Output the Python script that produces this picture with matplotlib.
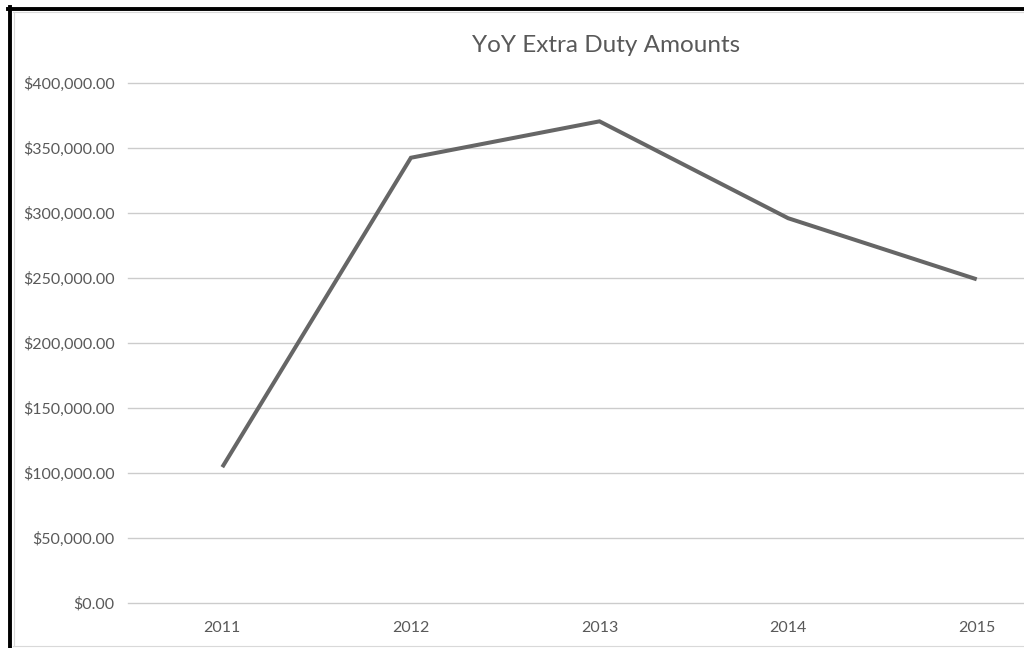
import numpy as np
import matplotlib
matplotlib.use("Agg")
import matplotlib.pyplot as plt
from matplotlib.lines import Line2D
from matplotlib.ticker import FuncFormatter

# data
years = ["2011", "2012", "2013", "2014", "2015"]
amounts = [104500, 342500, 370500, 296000, 249000]
y_ticks = [0, 50000, 100000, 150000, 200000, 250000, 300000, 350000, 400000]

plt.rcParams['font.family'] = ['Lato', 'DejaVu Sans']
text_grey = '#595959'

fig = plt.figure(figsize=(10.24, 6.48), dpi=100)
fig.patch.set_facecolor('white')

# axes runs past the right edge, like the cropped scan
ax = fig.add_axes([128 / 1024, 1 - 603 / 648, (1071 - 128) / 1024, (603 - 83) / 648])
ax.set_facecolor('none')

x = np.arange(len(years))
ax.plot(x, amounts, color='#666666', linewidth=2.9, solid_capstyle='butt',
        solid_joinstyle='miter', zorder=3)

ax.set_xlim(-0.5, len(years) - 0.5)
ax.set_ylim(0, 400000)
ax.set_yticks(y_ticks)
ax.yaxis.set_major_formatter(FuncFormatter(lambda v, p: '${:,.2f}'.format(v)))
ax.set_xticks(x)
ax.set_xticklabels(years)

ax.grid(axis='y', color='#cccccc', linewidth=1.0)
for gl in ax.get_ygridlines():
    gl.set_clip_on(False)
ax.set_axisbelow(True)
for s in ax.spines.values():
    s.set_visible(False)
ax.tick_params(axis='both', length=0, colors=text_grey, labelsize=11.5)
ax.tick_params(axis='y', pad=9.5)
ax.tick_params(axis='x', pad=13)

fig.text(606 / 1024, 1 - 45 / 648, 'YoY Extra Duty Amounts', ha='center', va='center',
         fontsize=17.5, color=text_grey)

# scan frame: thick black top/left, light grey inner edge
fig.add_artist(Line2D([9.5 / 1024, 9.5 / 1024], [0, 1 - 7 / 648], color='black',
                      linewidth=2.8, transform=fig.transFigure))
fig.add_artist(Line2D([8 / 1024, 1], [1 - 8.5 / 648, 1 - 8.5 / 648], color='black',
                      linewidth=2.8, transform=fig.transFigure))
fig.add_artist(Line2D([13 / 1024, 1], [1 - 12 / 648, 1 - 12 / 648], color='#d9d9d9',
                      linewidth=0.8, transform=fig.transFigure))
fig.add_artist(Line2D([13.5 / 1024, 13.5 / 1024], [2 / 648, 1 - 12 / 648], color='#d9d9d9',
                      linewidth=0.8, transform=fig.transFigure))
fig.add_artist(Line2D([13 / 1024, 1], [2 / 648, 2 / 648], color='#d9d9d9',
                      linewidth=0.8, transform=fig.transFigure))

fig.savefig('out.png', dpi=100, facecolor='white')
